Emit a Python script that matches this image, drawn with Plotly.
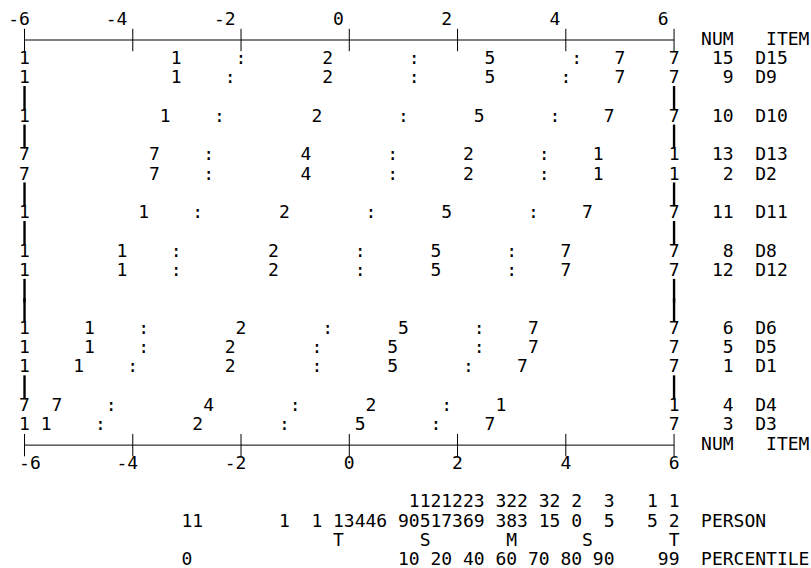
import plotly.graph_objects as go

# ---------------- data ----------------
tick_values = [-6, -4, -2, 0, 2, 4, 6]

# display order of rows between the two axes ("|" = spacer line)
row_layout = ["D15", "D9", "|", "D10", "|", "D13", "D2", "|", "D11", "|",
              "D8", "D12", "|", "|", "D6", "D5", "D1", "|", "D4", "D3"]

item_names = ["D15", "D9", "D10", "D13", "D2", "D11", "D8", "D12", "D6", "D5", "D1", "D4", "D3"]
item_nums = [15, 9, 10, 13, 2, 11, 8, 12, 6, 5, 1, 4, 3]
left_end_labels = ["1", "1", "1", "7", "7", "1", "1", "1", "1", "1", "1", "7", "1"]
right_end_labels = ["7", "7", "7", "1", "1", "7", "7", "7", "7", "7", "7", "1", "7"]

category_labels = [
    ["1", "2", "5", "7"], ["1", "2", "5", "7"], ["1", "2", "5", "7"],
    ["7", "4", "2", "1"], ["7", "4", "2", "1"], ["1", "2", "5", "7"],
    ["1", "2", "5", "7"], ["1", "2", "5", "7"], ["1", "2", "5", "7"],
    ["1", "2", "5", "7"], ["1", "2", "5", "7"], ["7", "4", "2", "1"],
    ["1", "2", "5", "7"],
]
category_positions = [
    [-3.2, -0.4, 2.6, 5.0],   # D15
    [-3.2, -0.4, 2.6, 5.0],   # D9
    [-3.4, -0.6, 2.4, 4.8],   # D10
    [-3.6, -0.8, 2.2, 4.6],   # D13
    [-3.6, -0.8, 2.2, 4.6],   # D2
    [-3.8, -1.2, 1.8, 4.4],   # D11
    [-4.2, -1.4, 1.6, 4.0],   # D8
    [-4.2, -1.4, 1.6, 4.0],   # D12
    [-4.8, -2.0, 1.0, 3.4],   # D6
    [-4.8, -2.2, 0.8, 3.4],   # D5
    [-5.0, -2.2, 0.8, 3.2],   # D1
    [-5.4, -2.6, 0.4, 2.8],   # D4
    [-5.6, -2.8, 0.2, 2.6],   # D3
]
threshold_positions = [
    [-2.0, 1.2, 4.2],   # D15
    [-2.2, 1.2, 4.0],   # D9
    [-2.4, 1.0, 3.8],   # D10
    [-2.6, 0.8, 3.6],   # D13
    [-2.6, 0.8, 3.6],   # D2
    [-2.8, 0.4, 3.4],   # D11
    [-3.2, 0.2, 3.0],   # D8
    [-3.2, 0.2, 3.0],   # D12
    [-3.8, -0.4, 2.4],  # D6
    [-3.8, -0.6, 2.4],  # D5
    [-4.0, -0.6, 2.2],  # D1
    [-4.4, -1.0, 1.8],  # D4
    [-4.6, -1.2, 1.6],  # D3
]

person_measures = [-3.0, -2.8, -1.2, -0.6, -0.2, 0.0, 0.2, 0.4, 0.6, 1.0, 1.2, 1.4, 1.6,
                   1.8, 2.0, 2.2, 2.4, 2.8, 3.0, 3.2, 3.6, 3.8, 4.2, 4.8, 5.6, 6.0]
person_counts = [1, 1, 1, 1, 1, 3, 4, 4, 6, 9, 10, 15, 21,
                 17, 23, 26, 39, 33, 28, 23, 31, 25, 20, 35, 15, 12]

stat_labels = ["T", "S", "M", "S", "T"]
stat_positions = [-0.2, 1.4, 3.0, 4.4, 6.0]

percentile_labels = ["0", "10", "20", "40", "60", "70", "80", "90", "99"]
percentile_positions = [-3.0, 1.2, 1.8, 2.4, 3.0, 3.6, 4.2, 4.8, 6.0]

# ---------------- layout constants ----------------
CHAR = 0.2            # one text column in logits
FONT = "DejaVu Sans Mono"
FSIZE = 18
INK = "#000000"
NUM_END = 6.0 + 5 * CHAR      # right end of NUM column
NAME_START = 6.0 + 8 * CHAR   # start of ITEM name column
LABEL_START = 6.0 + 3 * CHAR  # NUM / PERSON / PERCENTILE headers
ITEM_HDR = 6.0 + 9 * CHAR

xs, ys, ts = [], [], []


def put(start, line, s):
    for i, ch in enumerate(s):
        if ch != " ":
            xs.append(start + i * CHAR)
            ys.append(line)
            ts.append(ch)


def put_right(end, line, s):
    put(end - (len(s) - 1) * CHAR, line, s)


lo, hi = tick_values[0], tick_values[-1]
top_axis_line = 0
bottom_axis_line = len(row_layout) + 1

# tick labels
for v in tick_values:
    lab = str(v)
    put_right(v - (0 if v == lo else CHAR), top_axis_line - 1, lab)
    put_right(v + (CHAR if v == lo else 0), bottom_axis_line + 1, lab)

# headers
for ln in (top_axis_line, bottom_axis_line):
    put(LABEL_START, ln, "NUM")
    put(ITEM_HDR, ln, "ITEM")

# item rows
bar_x, bar_y = [], []
for r, key in enumerate(row_layout):
    line = r + 1
    if key == "|":
        bar_x += [lo, hi]
        bar_y += [line, line]
        continue
    k = item_names.index(key)
    put(lo, line, left_end_labels[k])
    put(hi, line, right_end_labels[k])
    for lab, pos in zip(category_labels[k], category_positions[k]):
        put(pos, line, lab)
    for pos in threshold_positions[k]:
        put(pos, line, ":")
    put_right(NUM_END, line, str(item_nums[k]))
    put(NAME_START, line, item_names[k])

# person distribution (tens digit above units digit)
tens_line = bottom_axis_line + 3
for m, c in zip(person_measures, person_counts):
    if c >= 10:
        put(m, tens_line, str(c // 10))
    put(m, tens_line + 1, str(c % 10))
put(LABEL_START, tens_line + 1, "PERSON")
for lab, pos in zip(stat_labels, stat_positions):
    put(pos, tens_line + 2, lab)
for lab, pos in zip(percentile_labels, percentile_positions):
    put_right(pos, tens_line + 3, lab)
put(LABEL_START, tens_line + 3, "PERCENTILE")

fig = go.Figure()

# axis lines
for ln in (top_axis_line, bottom_axis_line):
    fig.add_trace(go.Scatter(x=[lo, hi], y=[ln, ln], mode="lines",
                             line=dict(color=INK, width=1), hoverinfo="skip"))
    fig.add_trace(go.Scatter(x=tick_values, y=[ln] * len(tick_values), mode="markers",
                             marker=dict(symbol="line-ns", size=16,
                                         line=dict(color=INK, width=1)),
                             hoverinfo="skip"))

# spacer bars
fig.add_trace(go.Scatter(x=bar_x, y=bar_y, mode="markers",
                         marker=dict(symbol="line-ns", size=17,
                                     line=dict(color=INK, width=2.4)),
                         hoverinfo="skip"))

fig.add_trace(go.Scatter(x=xs, y=ys, text=ts, mode="text",
                         textposition="middle center",
                         textfont=dict(family=FONT, size=FSIZE, color=INK),
                         hoverinfo="skip"))

fig.update_layout(
    width=811, height=568,
    margin=dict(l=0, r=0, t=0, b=0),
    paper_bgcolor="white", plot_bgcolor="white",
    showlegend=False,
    xaxis=dict(range=[-6.453, 8.530], visible=False, fixedrange=True),
    yaxis=dict(range=[27.37, -2.074], visible=False, fixedrange=True),
)

fig.write_html("out.html", config={"displayModeBar": False},
               post_script="document.body.style.margin='0';document.body.style.overflow='hidden';")
